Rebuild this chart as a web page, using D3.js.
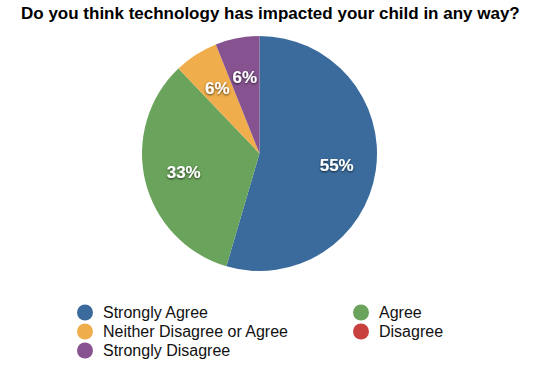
<!DOCTYPE html>
<html>
<head>
<meta charset="utf-8">
<script src="https://cdn.jsdelivr.net/npm/d3@7"></script>
<style>
  html, body { margin: 0; padding: 0; background: #fff; }
  svg { display: block; font-family: 'Liberation Sans', Arial, Helvetica, sans-serif; }
</style>
</head>
<body>
<div id="chart"></div>
<script>
// Data
const title = 'Do you think technology has impacted your child in any way?';
const categories = ['Strongly Agree', 'Agree', 'Neither Disagree or Agree', 'Disagree', 'Strongly Disagree'];
const counts = [18, 11, 2, 0, 2];
const palette = ['#3a6b9c', '#6aa35b', '#efad4b', '#c9413e', '#86528f'];

const width = 535, height = 370;
const center = { x: 259.5, y: 153.5 };
const radius = 117.5;

const svg = d3.select('#chart')
    .append('svg')
    .attr('width', width)
    .attr('height', height);

// Shadow for the percent labels
svg.append('defs')
    .append('filter')
    .attr('id', 'label-shadow')
    .attr('x', '-20%').attr('y', '-40%')
    .attr('width', '140%').attr('height', '180%')
    .append('feDropShadow')
    .attr('dx', 0)
    .attr('dy', 1)
    .attr('stdDeviation', 1.2)
    .attr('flood-color', '#000')
    .attr('flood-opacity', 0.7);

// Title
svg.append('text')
    .attr('x', 21)
    .attr('y', 19)
    .style('font-size', '17px')
    .style('font-weight', 'bold')
    .attr('fill', '#000')
    .text(title);

const color = d3.scaleOrdinal()
    .domain(categories)
    .range(palette);

const total = d3.sum(counts);
const pie = d3.pie()
    .sort(null)
    .value(d => d.value);

const arcs = pie(categories.map((c, i) => ({ name: c, value: counts[i] })));

const arc = d3.arc()
    .innerRadius(0)
    .outerRadius(radius);

const labelArc = d3.arc()
    .innerRadius(78)
    .outerRadius(78);

const g = svg.append('g')
    .attr('transform', `translate(${center.x},${center.y})`);

g.selectAll('path')
    .data(arcs)
    .enter()
    .append('path')
    .attr('d', arc)
    .attr('fill', d => color(d.data.name));

g.selectAll('text')
    .data(arcs.filter(d => d.data.value > 0))
    .enter()
    .append('text')
    .attr('transform', d => `translate(${labelArc.centroid(d)})`)
    .attr('text-anchor', 'middle')
    .attr('dy', '0.38em')
    .attr('fill', '#fff')
    .attr('filter', 'url(#label-shadow)')
    .style('font-size', '17px')
    .style('font-weight', 'bold')
    .text(d => Math.round(d.data.value / total * 100) + '%');

// Legend, two columns, row-major
const legend = svg.append('g');
const colX = [85, 361];
const rowY = d3.scaleLinear().domain([0, 1]).range([312.5, 331.5]);

const items = legend.selectAll('g')
    .data(categories)
    .enter()
    .append('g')
    .attr('transform', (d, i) => `translate(${colX[i % 2]},${rowY(Math.floor(i / 2))})`);

items.append('circle')
    .attr('r', 8)
    .attr('fill', d => color(d));

items.append('text')
    .attr('x', 18)
    .attr('dy', '0.36em')
    .style('font-size', '16px')
    .attr('fill', '#111')
    .text(d => d);
</script>
</body>
</html>
